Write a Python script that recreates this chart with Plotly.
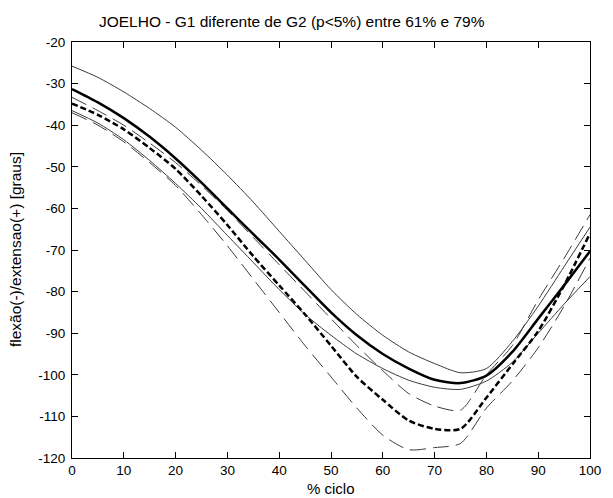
import plotly.graph_objects as go

x = [0, 5, 10, 15, 20, 25, 30, 35, 40, 45, 50, 55, 60, 65, 70, 75, 80, 85, 90, 95, 100]

g1_mean = [-31.3, -34.5, -38.3, -42.8, -48.0, -53.8, -60.0, -66.2, -72.3, -78.7, -85.0, -90.5, -95.0, -98.5, -101.2, -102.0, -100.2, -94.5, -86.5, -78.5, -70.3]
g1_upper = [-25.8, -28.5, -32.0, -36.0, -40.5, -46.0, -52.0, -58.5, -65.5, -72.5, -79.5, -85.5, -90.5, -94.5, -97.3, -99.5, -98.5, -92.0, -83.5, -74.0, -64.5]
g1_lower = [-36.5, -39.5, -43.5, -48.5, -54.0, -60.0, -66.5, -73.0, -79.5, -85.5, -90.5, -95.0, -98.5, -101.3, -103.0, -103.5, -101.5, -97.0, -90.0, -83.0, -76.4]

g2_mean = [-34.8, -37.5, -41.0, -45.5, -50.5, -57.0, -64.0, -71.5, -78.5, -85.5, -93.0, -100.5, -106.0, -111.0, -113.0, -113.0, -105.5, -97.5, -89.5, -78.5, -66.0]
g2_upper = [-33.3, -36.5, -40.0, -44.3, -49.0, -54.5, -60.5, -67.0, -73.5, -80.0, -86.5, -93.0, -99.0, -104.5, -107.5, -108.5, -100.0, -93.0, -82.0, -72.0, -61.5]
g2_lower = [-37.0, -40.0, -44.0, -49.0, -54.5, -61.5, -69.0, -77.0, -85.0, -93.0, -100.5, -108.0, -114.5, -118.0, -117.5, -116.5, -108.0, -101.5, -93.5, -83.5, -72.0]

x_ticks = [0, 10, 20, 30, 40, 50, 60, 70, 80, 90, 100]
y_ticks = [-20, -30, -40, -50, -60, -70, -80, -90, -100, -110, -120]

title_text = "JOELHO - G1 diferente de G2 (p<5%) entre 61% e 79%"
x_label = "% ciclo"
y_label = "flexão(-)/extensao(+) [graus]"

FONT = "Arial, Liberation Sans, sans-serif"
thin_col = "#3a3a3a"

fig = go.Figure()

def add(ys, width, dash, color):
    fig.add_trace(go.Scatter(x=x, y=ys, mode="lines",
                             line=dict(color=color, width=width, dash=dash, shape="spline", smoothing=0.7),
                             showlegend=False, hoverinfo="skip"))

add(g1_upper, 1, "solid", thin_col)
add(g1_lower, 1, "solid", thin_col)
add(g2_upper, 1, "16px,7px", thin_col)
add(g2_lower, 1, "16px,7px", thin_col)
add(g1_mean, 2.5, "solid", "black")
add(g2_mean, 2.5, "6px,3px", "black")

axis_common = dict(showgrid=False, zeroline=False, showline=True, linecolor="black", linewidth=1,
                   mirror="ticks", ticks="inside", ticklen=6, tickcolor="black", tickwidth=1,
                   tickfont=dict(family=FONT, size=13.5, color="black"))

fig.update_xaxes(range=[0, 100], tickvals=x_ticks, ticktext=[str(v) for v in x_ticks], **axis_common)
fig.update_yaxes(range=[-120, -20], tickvals=y_ticks, ticktext=[str(v) for v in y_ticks],
                 ticklabelstandoff=3, **axis_common)

fig.update_layout(
    width=613, height=498,
    margin=dict(l=72, r=13, t=42, b=40),
    paper_bgcolor="white", plot_bgcolor="white",
    title=dict(text=title_text, x=(296 - 72) / 528, xref="paper", xanchor="center",
               y=1 - 22 / 498, yref="container", yanchor="middle",
               font=dict(family=FONT, size=15.5, color="black")),
    annotations=[
        dict(text=x_label, xref="paper", yref="paper", x=0.5, y=-(488 - 458) / 416,
             xanchor="center", yanchor="middle", showarrow=False,
             font=dict(family=FONT, size=15, color="black")),
        dict(text=y_label, xref="paper", yref="paper", x=-(72 - 14) / 528, y=0.5,
             xanchor="center", yanchor="middle", textangle=-90, showarrow=False,
             font=dict(family=FONT, size=15.5, color="black")),
    ],
)

fig.write_html("out.html")
